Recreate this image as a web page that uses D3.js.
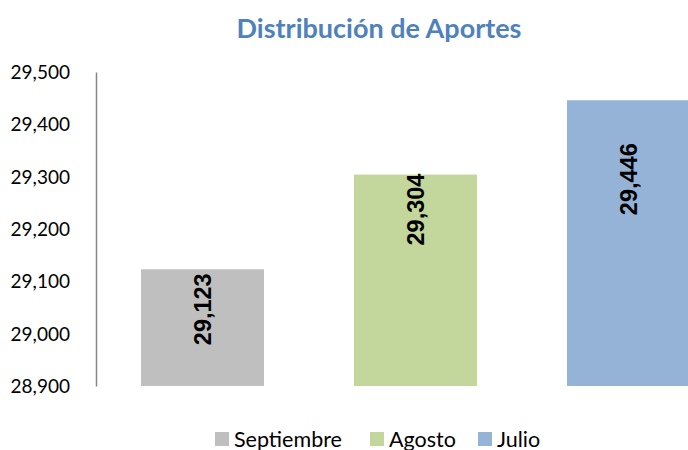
<!DOCTYPE html>
<html lang="es">
<head>
  <meta charset="UTF-8">
  <title>Distribución de Aportes</title>
  <style>
    body { margin: 0; background: #fff; }
    svg { display: block; }
    .title { font: bold 27px Lato, sans-serif; fill: #4F81BD; }
    .y-axis text { font: 19px Lato, sans-serif; fill: #000; }
    .y-axis .domain { stroke: #868686; stroke-width: 1.5px; }
    .value { font: bold 23.5px "Liberation Sans", Arial, sans-serif; fill: #000; }
    .legend text { font: 21.5px Lato, sans-serif; fill: #000; }
  </style>
</head>
<body>
  <svg id="chart" width="688" height="450"></svg>
  <script src="https://cdn.jsdelivr.net/npm/d3@7"></script>
  <script>
    const months = ["Septiembre", "Agosto", "Julio"];
    const aportes = [29123, 29304, 29446];
    const colors = ["#BFBFBF", "#C3D69B", "#95B3D7"];
    const yTicks = [28900, 29000, 29100, 29200, 29300, 29400, 29500];

    const width = 688, height = 450;
    const svg = d3.select("#chart");

    const x = d3.scaleBand()
      .domain(months)
      .range([96, 96 + 3 * 213])
      .paddingInner(0.4225)
      .paddingOuter(0.2113);

    const y = d3.scaleLinear()
      .domain([28900, 29500])
      .range([386, 72]);

    // title
    svg.append("text")
      .attr("class", "title")
      .attr("x", 379)
      .attr("y", 38)
      .attr("text-anchor", "middle")
      .text("Distribución de Aportes");

    // y axis
    svg.append("g")
      .attr("class", "y-axis")
      .attr("transform", "translate(96,0)")
      .call(d3.axisLeft(y)
        .tickValues(yTicks)
        .tickSize(0)
        .tickSizeOuter(0)
        .tickPadding(26)
        .tickFormat(d3.format(",")))
      .call(g => g.selectAll("text").attr("dy", "0.35em"));

    // bars
    const rows = months.map((m, i) => ({ month: m, value: aportes[i], color: colors[i] }));

    svg.append("g")
      .selectAll("rect")
      .data(rows)
      .join("rect")
      .attr("x", d => x(d.month))
      .attr("y", d => y(d.value))
      .attr("width", x.bandwidth())
      .attr("height", d => y(28900) - y(d.value))
      .attr("fill", d => d.color);

    // data labels, rotated, read bottom-up (last one sits lower, as in the original)
    const nudge = [4, -1, 43];
    svg.append("g")
      .selectAll("text")
      .data(rows)
      .join("text")
      .attr("class", "value")
      .attr("text-anchor", "end")
      .attr("dy", "0.35em")
      .attr("transform", (d, i) =>
        `translate(${x(d.month) + x.bandwidth() / 2},${y(d.value) + nudge[i]}) rotate(-90)`)
      .text(d => d3.format(",")(d.value));

    // legend
    const legendX = [215, 370, 478];
    const legend = svg.append("g")
      .attr("class", "legend")
      .selectAll("g")
      .data(rows)
      .join("g")
      .attr("transform", (d, i) => `translate(${legendX[i]},432)`);

    legend.append("rect")
      .attr("width", 14)
      .attr("height", 14)
      .attr("fill", d => d.color);

    legend.append("text")
      .attr("x", 19)
      .attr("y", 14.5)
      .text(d => d.month);
  </script>
</body>
</html>
